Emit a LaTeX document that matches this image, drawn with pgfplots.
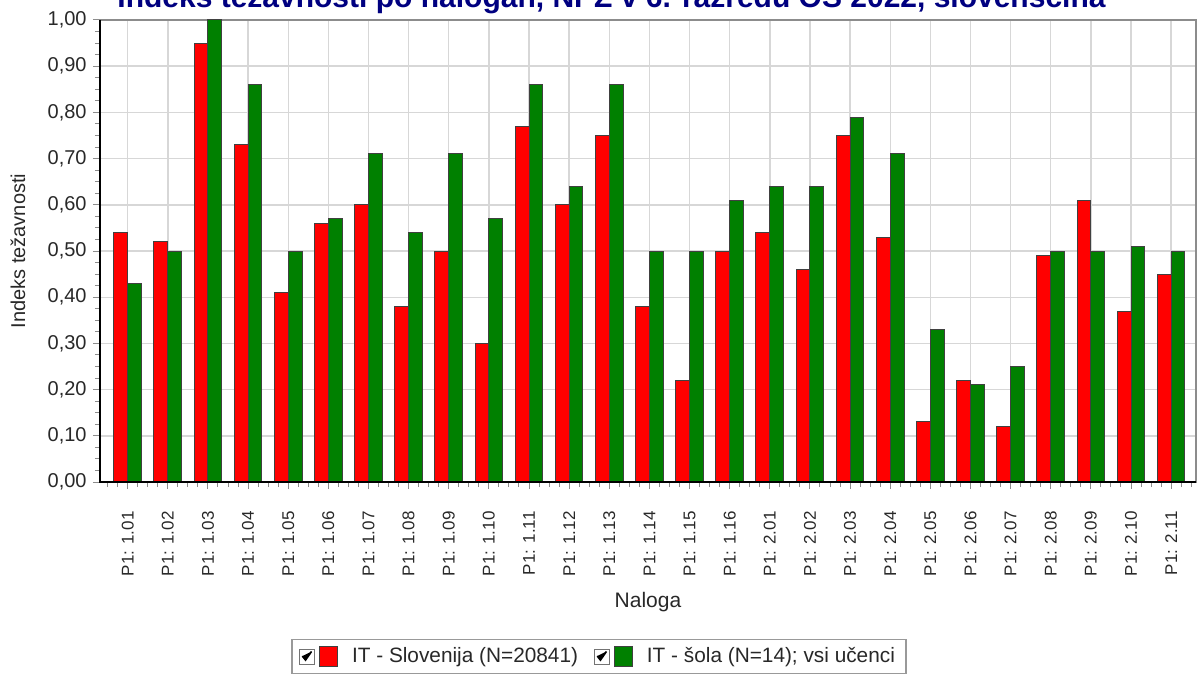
\documentclass[border=0pt]{standalone}
\usepackage{fontspec}
\setmainfont{Liberation Sans}
\usepackage{pgfplots}
\usepackage{pgfplotstable}
\pgfplotsset{compat=1.18}
\definecolor{barred}{RGB}{255,0,0}
\definecolor{bargreen}{RGB}{0,128,0}
\definecolor{titleblue}{RGB}{0,0,128}
\definecolor{gridgray}{RGB}{215,215,215}
\definecolor{labelgray}{RGB}{40,40,40}

\pgfplotstableread{
x slo sola
0 0.54 0.43
1 0.52 0.50
2 0.95 1.00
3 0.73 0.86
4 0.41 0.50
5 0.56 0.57
6 0.60 0.71
7 0.38 0.54
8 0.50 0.71
9 0.30 0.57
10 0.77 0.86
11 0.60 0.64
12 0.75 0.86
13 0.38 0.50
14 0.22 0.50
15 0.50 0.61
16 0.54 0.64
17 0.46 0.64
18 0.75 0.79
19 0.53 0.71
20 0.13 0.33
21 0.22 0.21
22 0.12 0.25
23 0.49 0.50
24 0.61 0.50
25 0.37 0.51
26 0.45 0.50
}\data

\begin{document}
\begin{tikzpicture}
\begin{axis}[
  at={(0pt,0pt)}, anchor=south west,
  width=548pt, height=231pt, scale only axis,
  xmin=-0.69, xmax=26.62, ymin=0, ymax=1,
  xtick={0,...,26},
  xticklabels={P1: 1.01,P1: 1.02,P1: 1.03,P1: 1.04,P1: 1.05,P1: 1.06,P1: 1.07,P1: 1.08,P1: 1.09,P1: 1.10,P1: 1.11,P1: 1.12,P1: 1.13,P1: 1.14,P1: 1.15,P1: 1.16,P1: 2.01,P1: 2.02,P1: 2.03,P1: 2.04,P1: 2.05,P1: 2.06,P1: 2.07,P1: 2.08,P1: 2.09,P1: 2.10,P1: 2.11},
  minor xtick={-0.5,-0.25,...,26.5},
  ytick={0,0.1,0.2,0.3,0.4,0.5,0.6,0.7,0.8,0.9,1},
  minor y tick num=3,
  tick align=outside,
  xtick pos=bottom, ytick pos=left,
  major tick length=3.5pt, minor tick length=2.5pt,
  tick style={black!45, line width=0.5pt},
  xmajorgrids, ymajorgrids,
  major grid style={gridgray, line width=0.7pt},
  axis line style={black!45, line width=0.7pt},
  yticklabel style={/pgf/number format/.cd, use comma, fixed, fixed zerofill, precision=2, assume math mode=true,
    /tikz/.cd, font=\fontsize{10}{12}\selectfont, text=labelgray, inner sep=0pt, xshift=-3pt},
  xticklabel style={rotate=90, anchor=east, font=\fontsize{8.5}{10}\selectfont, text=labelgray, inner sep=0pt},
  xticklabel shift=11pt,
  xlabel={Naloga},
  xlabel style={at={(axis description cs:0.5,-0.26)}, anchor=center, font=\fontsize{10.5}{12}\selectfont, text=labelgray},
  ylabel={Indeks težavnosti},
  ylabel style={at={(axis description cs:-0.0748,0.5)}, anchor=center, font=\fontsize{10}{12}\selectfont, text=labelgray},
  legend columns=2,
  legend style={at={(axis description cs:0.4553,-0.3777)}, anchor=center,
    draw=black!40, line width=0.8pt, font=\fontsize{10.4}{12}\selectfont, text=labelgray,
    inner xsep=3.5pt, inner ysep=2pt,
    /tikz/every odd column/.append style={column sep=5pt},
    /tikz/every even column/.append style={column sep=6pt}},
  legend cell align=left,
  after end axis/.code={
    \draw[black, line width=1.3pt] (rel axis cs:0,1) -- (rel axis cs:0,0) -- (rel axis cs:1,0);
  },
]
\addplot[ybar, fill=barred, draw=black!75, line width=0.5pt, bar width=0.345, bar shift=-0.1725,
  legend image code/.code={
    \draw[draw=black!55, fill=white, line width=0.4pt] (0pt,-3.75pt) rectangle (7.5pt,3.75pt);
    \draw[black, line width=0.8pt] (1.4pt,0.2pt) -- (3pt,-1.8pt) -- (6pt,2.5pt);
    \draw[draw=black!75, fill=barred, line width=0.5pt] (10pt,-5pt) rectangle (19pt,5pt);
  }] table[x=x,y=slo] {\data};
\addlegendentry{IT - Slovenija (N=20841)}
\addplot[ybar, fill=bargreen, draw=black!75, line width=0.5pt, bar width=0.345, bar shift=0.1725,
  legend image code/.code={
    \draw[draw=black!55, fill=white, line width=0.4pt] (0pt,-3.75pt) rectangle (7.5pt,3.75pt);
    \draw[black, line width=0.8pt] (1.4pt,0.2pt) -- (3pt,-1.8pt) -- (6pt,2.5pt);
    \draw[draw=black!75, fill=bargreen, line width=0.5pt] (10pt,-5pt) rectangle (19pt,5pt);
  }] table[x=x,y=sola] {\data};
\addlegendentry{IT - šola (N=14); vsi učenci}
\end{axis}
\begin{scope}
  \clip (-50pt,-96.5pt) rectangle (548.5pt,241pt);
  \node[anchor=base, font=\fontsize{15}{18}\selectfont\bfseries, text=titleblue, inner sep=0pt]
    at (255.75pt,237pt) {Indeks težavnosti po nalogah, NPZ v 6. razredu OŠ 2022, slovenščina};
\end{scope}
\pgfresetboundingbox
\useasboundingbox (-50pt,-96.5pt) rectangle (548.5pt,241pt);
\end{tikzpicture}
\end{document}
